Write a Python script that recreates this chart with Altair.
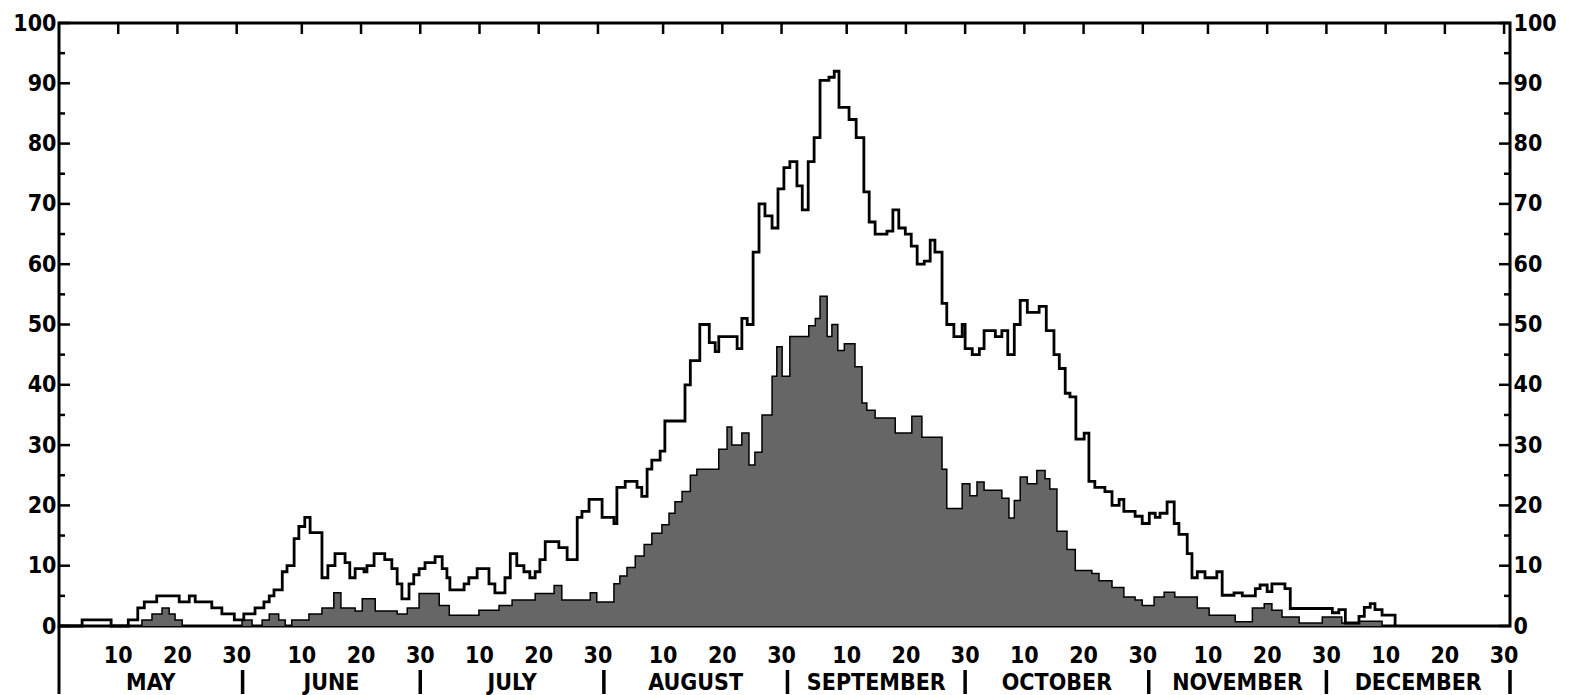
import altair as alt
import pandas as pd

# ---- data (day 0 = 1 May, step start day + level) ----
total_day = [0.0, 3.9, 8.8, 11.7, 13.3, 14.4, 16.5, 20.3, 22.0, 23.0,
             25.8, 27.5, 29.6, 31.2, 33.1, 34.6, 35.5, 36.3, 37.7, 38.5,
             39.7, 40.5, 41.5, 42.4, 44.4, 45.4, 46.6, 48.3, 49.1, 50.0,
             51.5, 52.0, 53.2, 55.0, 56.2, 57.1, 57.9, 59.1, 59.9, 60.8,
             61.8, 63.5, 64.7, 65.5, 66.0, 68.4, 69.2, 70.6, 72.6, 73.6,
             75.3, 76.2, 77.3, 78.5, 79.5, 80.4, 81.2, 82.1, 84.4, 85.8,
             87.5, 88.3, 89.5, 91.7, 93.7, 94.2, 95.6, 97.6, 98.4, 99.3,
             100.1, 101.5, 102.3, 105.7, 106.6, 108.2, 109.8, 110.8, 111.4, 114.5,
             115.3, 116.2, 117.2, 118.2, 119.2, 120.4, 121.4, 122.4, 123.4, 124.6,
             125.5, 126.5, 127.5, 128.5, 130.0, 130.9, 131.7, 133.4, 134.6, 135.9,
             136.8, 137.8, 139.8, 140.8, 141.8, 142.9, 143.9, 144.9, 146.1, 147.1,
             147.9, 149.1, 149.9, 151.1, 152.5, 153.0, 154.2, 155.4, 156.2, 158.1,
             159.2, 160.2, 161.3, 162.3, 163.5, 165.5, 166.7, 168.0, 168.9, 169.9,
             170.7, 171.7, 173.1, 173.9, 174.9, 176.6, 177.8, 179.0, 179.8, 181.7,
             182.9, 184.1, 185.1, 185.9, 187.1, 188.3, 189.1, 190.5, 191.3, 192.2,
             193.5, 195.5, 196.4, 198.4, 199.8, 202.0, 202.8, 204.0, 204.8, 207.0,
             207.9, 215.0, 216.1, 217.2, 219.5, 220.4, 221.4, 222.2, 223.4, 225.6]
total_val = [0, 1, 0, 1, 3, 4, 5, 4, 5, 4,
             3, 2, 1, 2, 3, 4, 5, 6, 9, 10,
             14.5, 16.5, 18, 15.5, 8, 10, 12, 10.5, 8, 9.5,
             9, 10, 12, 11, 9.5, 7, 4.5, 7, 8.5, 9.5,
             10.5, 11.5, 9.5, 8, 6, 7, 8, 9.5, 7, 5.5,
             8, 12, 10, 9, 8, 9, 11, 14, 13, 11,
             18, 19, 21, 18, 17, 23, 24, 23, 21.5, 26,
             27.5, 29, 34, 40, 44, 50, 47, 45.5, 48, 46,
             51, 50, 62, 70, 68, 66, 72.5, 76, 77, 73,
             69, 77, 81, 90.5, 91, 92, 86, 84, 81, 72,
             67, 65, 65.5, 69, 66, 65, 63, 60, 60.5, 64,
             62, 53.5, 50, 48, 50, 46, 45, 46, 49, 48,
             49, 45, 50, 54, 52, 53, 49, 45, 42.7, 38.6,
             38, 31, 32, 24, 23, 22.3, 20, 21, 19, 18.2,
             17, 18.7, 18, 18.7, 20.6, 17, 15.2, 12, 8, 9,
             8, 9, 5.1, 5.5, 5, 6.2, 6.8, 5.7, 7, 6.2,
             2.9, 2.2, 2.7, 0.5, 1.6, 3.1, 3.7, 2.7, 1.8, 0]

sub_day = [0.0, 14.0, 15.7, 17.4, 18.6, 19.6, 20.8, 30.9, 32.6, 34.3,
           35.5, 37.1, 38.2, 39.3, 42.2, 44.4, 46.4, 47.6, 50.0, 51.2,
           53.4, 57.1, 58.8, 60.8, 64.2, 65.9, 70.9, 74.3, 76.5, 80.4,
           83.6, 84.9, 89.7, 90.8, 93.7, 94.7, 95.9, 97.3, 98.8, 100.1,
           101.8, 103.0, 104.0, 105.2, 106.6, 107.7, 111.4, 112.8, 113.6, 115.3,
           116.5, 117.5, 118.7, 120.4, 121.2, 122.1, 123.4, 126.6, 127.7, 128.5,
           129.7, 130.5, 131.5, 132.6, 134.4, 135.6, 136.4, 137.8, 141.2, 144.0,
           145.7, 149.1, 149.9, 152.5, 153.8, 155.0, 156.2, 159.2, 160.4, 161.3,
           162.3, 163.5, 165.1, 166.5, 167.3, 168.5, 170.2, 171.6, 174.4, 175.6,
           177.8, 179.8, 181.7, 182.9, 184.9, 186.6, 188.4, 192.2, 194.2, 198.6,
           201.5, 203.5, 204.8, 206.5, 209.4, 213.3, 216.6, 219.5, 223.4]
sub_val = [0, 1, 2, 3, 2, 1, 0, 1, 0, 1,
           2, 1, 0, 1, 2, 3, 5.5, 3, 2.5, 4.5,
           2.5, 2, 3, 5.4, 3.4, 1.8, 2.6, 3.4, 4.3, 5.4,
           6.7, 4.3, 5.5, 4, 7, 8.3, 9.7, 11.6, 13.5, 15.4,
           16.8, 18.7, 20.6, 22.3, 25, 26, 29.3, 33, 30, 32,
           26.7, 28.8, 35, 41.4, 46.3, 41.4, 48, 49.8, 51, 54.7,
           48, 50, 45.7, 46.8, 43, 37, 35.8, 34.5, 32, 34.8,
           31.3, 26, 19.5, 23.6, 21.6, 23.9, 22.5, 21.2, 17.9, 20.8,
           24.7, 23.6, 25.8, 24.4, 22.7, 15.7, 12.7, 9.2, 8.7, 7.5,
           6.4, 4.8, 4.3, 3.4, 4.8, 5.6, 4.8, 3, 1.8, 0.7,
           3, 3.7, 2.6, 1.5, 0.5, 1.5, 0.5, 0.8, 0]

month_names = ["MAY", "JUNE", "JULY", "AUGUST", "SEPTEMBER", "OCTOBER", "NOVEMBER", "DECEMBER"]
month_start = [0, 31, 61, 92, 123, 153, 184, 214]
month_len = [31, 30, 31, 31, 30, 31, 30, 31]
day_labels = [10, 20, 30]
y_major = list(range(0, 101, 10))
y_minor = list(range(5, 100, 10))

assert len(total_day) == len(total_val)
assert len(sub_day) == len(sub_val)

W, H = 1451, 603
FONT = "DejaVu Sans Condensed, Liberation Sans Narrow, DejaVu Sans"
FS = 23
END = month_start[-1] + month_len[-1]

tot_df = pd.DataFrame({"day": total_day, "value": total_val})
sub_df = pd.DataFrame({"day": sub_day, "value": sub_val})

bottom_ticks = sorted(set(
    [s + k for s in month_start for k in range(5, 31, 5)] + month_start[1:] + [END]))
lab_rows = [{"d": s + k, "t": str(k)} for s in month_start for k in day_labels]
lab_df = pd.DataFrame(lab_rows)
top_df = pd.DataFrame({"d": [r["d"] for r in lab_rows]})
mon_df = pd.DataFrame({"d": [s + l / 2 for s, l in zip(month_start, month_len)],
                       "t": month_names})
sep_df = pd.DataFrame({"d": month_start[1:] + [END]})
ymaj_df = pd.DataFrame({"v": y_major})
ymin_df = pd.DataFrame({"v": y_minor})

xs = alt.Scale(domain=[0, END], nice=False, zero=False)
ys = alt.Scale(domain=[0, 100], nice=False, zero=True)


def X(field):
    return alt.X(field, scale=xs, axis=None)


def Yn(field):
    return alt.Y(field, scale=ys, axis=None)


area = alt.Chart(sub_df).mark_area(interpolate="step-after", color="#666666").encode(
    x=alt.X("day:Q", scale=xs,
            axis=alt.Axis(values=bottom_ticks, labels=False, tickSize=11, tickWidth=2.5,
                          tickColor="black", domain=False, grid=False, title=None)),
    y=alt.Y("value:Q", scale=ys,
            axis=alt.Axis(values=y_major, orient="left", ticks=False, domain=False, grid=False,
                          title=None, labelFont=FONT, labelFontSize=FS, labelFontWeight="bold",
                          labelColor="black", labelPadding=3)),
)
sub_edge = alt.Chart(sub_df).mark_line(interpolate="step-after", color="black",
                                        strokeWidth=1.5).encode(x=X("day:Q"), y=Yn("value:Q"))
total = alt.Chart(tot_df).mark_line(interpolate="step-after", color="black",
                                     strokeWidth=2.8).encode(
    x=X("day:Q"),
    y=alt.Y("value:Q", scale=ys,
            axis=alt.Axis(values=y_major, orient="right", ticks=False, domain=False, grid=False,
                          title=None, labelFont=FONT, labelFontSize=FS, labelFontWeight="bold",
                          labelColor="black", labelPadding=3)),
)

left_major = alt.Chart(ymaj_df).mark_rule(color="black", strokeWidth=2.5).encode(
    y=Yn("v:Q"), x=alt.value(0), x2=alt.value(11))
left_minor = alt.Chart(ymin_df).mark_rule(color="black", strokeWidth=2.5).encode(
    y=Yn("v:Q"), x=alt.value(0), x2=alt.value(6))
right_major = alt.Chart(ymaj_df).mark_rule(color="black", strokeWidth=2.5).encode(
    y=Yn("v:Q"), x=alt.value(W), x2=alt.value(W - 11))
right_minor = alt.Chart(ymin_df).mark_rule(color="black", strokeWidth=2.5).encode(
    y=Yn("v:Q"), x=alt.value(W), x2=alt.value(W - 6))
top_ticks = alt.Chart(top_df).mark_rule(color="black", strokeWidth=2.5).encode(
    x=X("d:Q"), y=alt.value(0), y2=alt.value(11))

num_labels = alt.Chart(lab_df).mark_text(font=FONT, fontSize=FS, fontWeight="bold",
                                         color="black", baseline="middle",
                                         align="center").encode(
    x=X("d:Q"), y=alt.value(H + 30), text="t:N")
month_labels = alt.Chart(mon_df).mark_text(font=FONT, fontSize=FS, fontWeight="bold",
                                           color="black", baseline="middle",
                                           align="center").encode(
    x=X("d:Q"), y=alt.value(H + 57), text="t:N")
seps = alt.Chart(sep_df).mark_rule(color="black", strokeWidth=3.5).encode(
    x=X("d:Q"), y=alt.value(H + 44), y2=alt.value(H + 68))
left_ext = alt.Chart(pd.DataFrame({"d": [0]})).mark_rule(color="black", strokeWidth=3).encode(
    x=X("d:Q"), y=alt.value(H), y2=alt.value(H + 68))

chart = alt.layer(
    area, sub_edge, total, left_major, left_minor, right_major, right_minor, top_ticks,
    num_labels, month_labels, seps, left_ext
).resolve_axis(y="independent").properties(
    width=W, height=H, padding={"left": 4, "top": 4, "right": 0, "bottom": 0}
).configure_view(stroke="black", strokeWidth=3)

chart.save("out.html", embed_options={"renderer": "svg", "actions": False})
